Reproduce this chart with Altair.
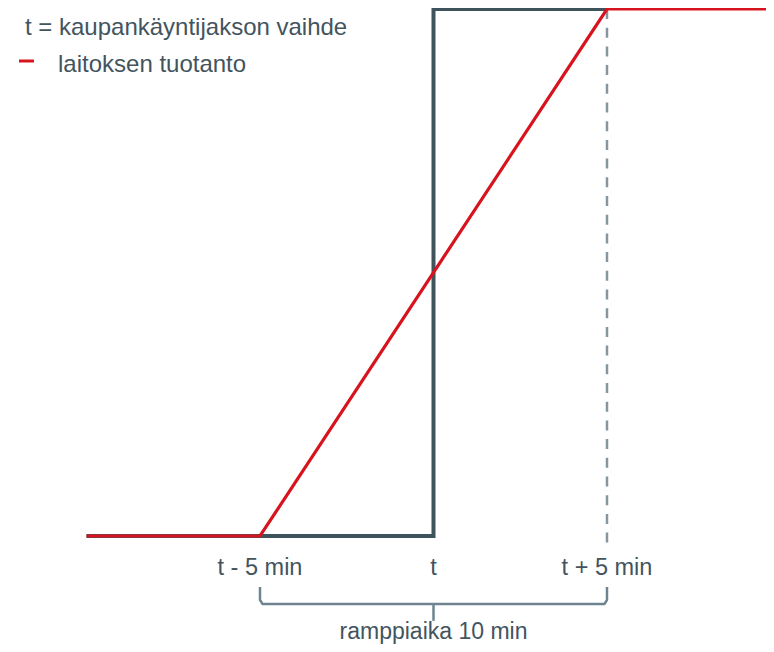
import altair as alt
import pandas as pd

# --- data (minutes relative to t, production level 0..1) ---
step_x = [-10, 0, 0, 5]
step_y = [0, 0, 1, 1]

prod_x = [-10, -5, 5, 9.8]
prod_y = [0, 0, 1, 1]

tick_pos = [-5, 0, 5]
tick_labels = ["t - 5 min", "t", "t + 5 min"]

legend_labels = ["t = kaupankäyntijakson vaihde", "laitoksen tuotanto"]
brace_label = "ramppiaika 10 min"

# brace geometry (x in minutes, y in level units below the baseline)
brace_x = [-5, -5, -4.93, 4.93, 5, 5, 0, 0]
brace_y = [-0.097, -0.121, -0.129, -0.129, -0.121, -0.097, -0.129, -0.161]
brace_grp = [0, 0, 0, 0, 0, 0, 1, 1]

DARK = "#3f535d"
RED = "#d7141e"
TEXT = "#43545e"
BRACE = "#6e8591"
DASH = "#8596a0"
FONT = "Liberation Sans"

xs = alt.Scale(domain=[-5, 5], range=[252, 599])
ys = alt.Scale(domain=[0, 1], range=[528, 1])

step_df = pd.DataFrame({"x": step_x, "y": step_y, "o": range(len(step_x))})
prod_df = pd.DataFrame({"x": prod_x, "y": prod_y, "o": range(len(prod_x))})
tick_df = pd.DataFrame({"x": tick_pos, "label": tick_labels, "y": [-0.074] * 3})
brace_df = pd.DataFrame({"x": brace_x, "y": brace_y, "g": brace_grp, "o": range(len(brace_x))})
dash_df = pd.DataFrame({"x": [5], "y": [1], "y2": [-0.017]})
blabel_df = pd.DataFrame({"x": [0], "y": [-0.196], "label": [brace_label]})

X = lambda: alt.X("x:Q", scale=xs, axis=None)
Y = lambda: alt.Y("y:Q", scale=ys, axis=None)

dashed = alt.Chart(dash_df).mark_rule(color=DASH, strokeWidth=2.5, strokeDash=[10, 8.7]).encode(
    x=X(), y=Y(), y2="y2:Q"
)

step = alt.Chart(step_df).mark_line(color=DARK, strokeWidth=4, strokeJoin="miter").encode(
    x=X(), y=Y(), order="o:Q"
)

prod = alt.Chart(prod_df).mark_line(color=RED, strokeWidth=3.2).encode(
    x=X(), y=Y(), order="o:Q"
)

ticks = alt.Chart(tick_df).mark_text(
    font=FONT, fontSize=23.5, color=TEXT, align="center", baseline="alphabetic"
).encode(x=X(), y=Y(), text="label:N")

brace = alt.Chart(brace_df).mark_line(color=BRACE, strokeWidth=2.5, strokeJoin="round").encode(
    x=X(), y=Y(), detail="g:N", order="o:Q"
)

blabel = alt.Chart(blabel_df).mark_text(
    font=FONT, fontSize=23, color=TEXT, align="center", baseline="alphabetic"
).encode(x=X(), y=Y(), text="label:N")

leg1 = alt.Chart(pd.DataFrame({"label": [legend_labels[0]]})).mark_text(
    font=FONT, fontSize=24, color=TEXT, align="left", baseline="alphabetic"
).encode(x=alt.value(17), y=alt.value(27), text="label:N")

leg2 = alt.Chart(pd.DataFrame({"label": [legend_labels[1]]})).mark_text(
    font=FONT, fontSize=24, color=TEXT, align="left", baseline="alphabetic"
).encode(x=alt.value(50), y=alt.value(64), text="label:N")

leg_dash = alt.Chart(pd.DataFrame({"a": [0]})).mark_rule(color=RED, strokeWidth=3).encode(
    x=alt.value(11), x2=alt.value(26), y=alt.value(53)
)

chart = alt.layer(
    dashed, step, prod, ticks, brace, blabel, leg1, leg2, leg_dash
).properties(
    width=758, height=636, padding=0, autosize=alt.AutoSizeParams(type="none")
).configure_view(stroke=None)

chart.save("out.html", embed_options={"renderer": "svg", "actions": False})
